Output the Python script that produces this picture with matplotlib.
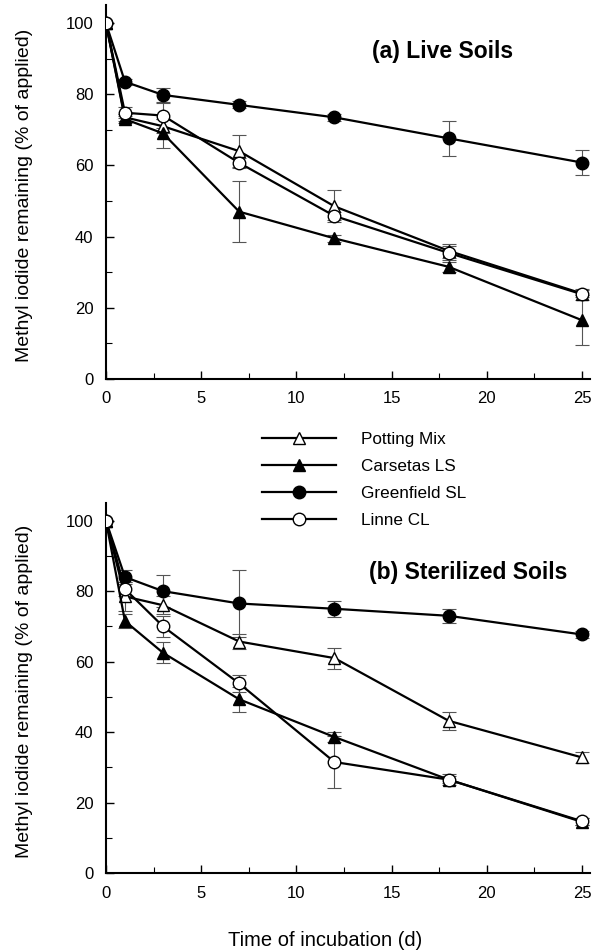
import matplotlib
matplotlib.use('Agg')
import matplotlib.pyplot as plt
import matplotlib.ticker as ticker
from matplotlib import font_manager

plt.rcParams['font.family'] = ['Liberation Sans', 'DejaVu Sans']

# bold Liberation Sans, not the Narrow cut
lihava = None
for f in font_manager.fontManager.ttflist:
    if f.name == 'Liberation Sans' and f.weight in (700, 'bold') and f.style == 'normal' \
            and 'Narrow' not in f.fname:
        lihava = f.fname
        break
otsikko_font = font_manager.FontProperties(fname=lihava, size=16.5) if lihava else \
    font_manager.FontProperties(family='DejaVu Sans', weight='bold', size=15)

# incubation times (d)
dagar = [0, 1, 3, 7, 12, 18, 25]

# (a) live soils
potting_a = [100, 73.5, 71, 64, 48.5, 36, 24]
potting_a_err = [0, 1, 2, 4.5, 4.5, 2, 1]
carsetas_a = [100, 73, 69, 47, 39.5, 31.5, 16.5]
carsetas_a_err = [0, 1, 4, 8.5, 1, 1.5, 7]
greenfield_a = [100, 83.5, 79.8, 77, 73.5, 67.6, 60.8]
greenfield_a_err = [0, 0.8, 2, 1, 1, 5, 3.5]
linne_a = [100, 74.8, 74, 60.7, 45.8, 35.4, 23.8]
linne_a_err = [0, 1.5, 3.5, 1.5, 1, 2, 1.5]

# (b) sterilized soils
potting_b = [100, 78.5, 76, 65.7, 61, 43.2, 32.8]
potting_b_err = [0, 4, 2.5, 2, 3, 2.5, 1.5]
carsetas_b = [100, 71.5, 62.5, 49.3, 38.6, 26.5, 14.5]
carsetas_b_err = [0, 2, 3, 3.5, 1.5, 1, 1]
greenfield_b = [100, 84, 80, 76.5, 75, 73, 67.7]
greenfield_b_err = [0, 2, 4.5, 9.5, 2.2, 2, 1]
linne_b = [100, 80.6, 70, 53.8, 31.5, 26.5, 14.7]
linne_b_err = [0, 2, 3, 2.5, 7.5, 1.5, 1]

nimet = ['Potting Mix', 'Carsetas LS', 'Greenfield SL', 'Linne CL']
merkit = [('^', 'white'), ('^', 'black'), ('o', 'black'), ('o', 'white')]

fig = plt.figure(figsize=(5.95, 9.51), dpi=100)
ax1 = fig.add_axes([0.178, 0.6015, 0.813, 0.393])
ax2 = fig.add_axes([0.178, 0.082, 0.813, 0.389])


def piirra(ax, sarjat, virheet):
    viivat = []
    for arvot, err, (m, fc), nimi in zip(sarjat, virheet, merkit, nimet):
        ax.errorbar(dagar, arvot, yerr=err, fmt='none', ecolor='#555555',
                    elinewidth=0.8, capsize=5, capthick=0.8, zorder=1)
        ms = 9 if m == 'o' else 8.5
        l, = ax.plot(dagar, arvot, marker=m, color='black', mfc=fc, mec='black',
                     mew=1.0, ms=ms, lw=1.6, label=nimi, zorder=3)
        viivat.append(l)
    ax.set_xlim(0, 25.4)
    ax.set_ylim(0, 105)
    ax.spines['top'].set_visible(False)
    ax.spines['right'].set_visible(False)
    ax.spines['left'].set_linewidth(1.5)
    ax.spines['bottom'].set_linewidth(1.5)
    ax.xaxis.set_major_locator(ticker.MultipleLocator(5))
    ax.xaxis.set_minor_locator(ticker.MultipleLocator(2.5))
    ax.yaxis.set_major_locator(ticker.FixedLocator([0, 20, 40, 60, 80, 100]))
    ax.yaxis.set_minor_locator(ticker.FixedLocator([10, 30, 50, 70, 90]))
    ax.tick_params(which='major', direction='in', length=6, width=1.0, labelsize=12, pad=9)
    ax.tick_params(which='minor', direction='in', length=4, width=0.8)
    ax.set_ylabel('Methyl iodide remaining (% of applied)', fontsize=14)
    ax.yaxis.set_label_coords(-0.151, 0.49)
    return viivat


viivat = piirra(ax1, [potting_a, carsetas_a, greenfield_a, linne_a],
                [potting_a_err, carsetas_a_err, greenfield_a_err, linne_a_err])
piirra(ax2, [potting_b, carsetas_b, greenfield_b, linne_b],
       [potting_b_err, carsetas_b_err, greenfield_b_err, linne_b_err])

ax1.text(17.7, 91.9, '(a) Live Soils', fontproperties=otsikko_font, ha='center', va='center')
ax2.text(19.0, 85.2, '(b) Sterilized Soils', fontproperties=otsikko_font, ha='center', va='center')
ax2.set_xlabel('Time of incubation (d)', fontsize=14.5)
ax2.xaxis.set_label_coords(0.453, -0.158)

fig.legend(handles=viivat, loc='upper left', bbox_to_anchor=(0.44, 0.546),
           frameon=False, fontsize=12.3, handlelength=4.35, handletextpad=1.45,
           labelspacing=0.7, borderpad=0, borderaxespad=0, numpoints=1)

plt.savefig('out.png', dpi=100)
